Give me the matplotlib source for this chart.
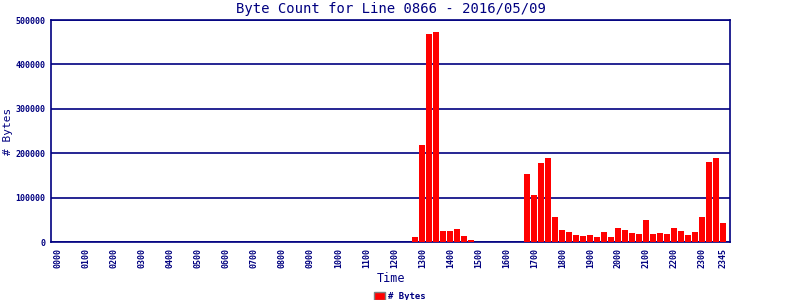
import matplotlib
matplotlib.use("Agg")
import matplotlib.pyplot as plt
from matplotlib.patches import Patch

# 15-minute intervals 00:00 .. 23:45
times = [f"{h:02d}{m:02d}" for h in range(24) for m in (0, 15, 30, 45)]
byte_counts = [0] * 51 + [
    10600, 218000, 469000, 473000, 24000, 24000, 28600, 12900, 3800,   # 12:45 - 14:45
    0, 0, 0, 0, 0, 0, 0,                                                # 15:00 - 16:30
    154000, 107000, 179000, 190000, 56000, 27000, 22400, 15700,        # 16:45 - 18:30
    13400, 15700, 11200, 22400, 11200, 31300, 27000, 20100,            # 18:45 - 20:30
    17900, 49200, 17900, 20100, 17900, 31300, 24600, 15700,            # 20:45 - 22:30
    22400, 56000, 181000, 190000, 42500,                               # 22:45 - 23:45
]
tick_labels = [t for t in times if t.endswith("00")] + ["2345"]
y_ticks = [0, 100000, 200000, 300000, 400000, 500000]

navy = "#000080"
plt.rcParams["font.family"] = ["DejaVu Sans Mono", "DejaVu Sans"]

fig = plt.figure(figsize=(8, 3), dpi=100)
ax = fig.add_axes([0.064, 0.1933, 0.8485, 0.74])

x = list(range(len(times)))
ax.bar(x, byte_counts, width=0.86, color="#ff0000", zorder=3)

ax.set_xlim(-1.04, 95.96)
ax.set_ylim(0, 500000)
ax.set_yticks(y_ticks)
ax.set_yticklabels([str(v) for v in y_ticks], fontsize=6, fontweight="bold", color=navy)
tick_pos = [i for i, t in enumerate(times) if t in tick_labels]
ax.set_xticks(tick_pos)
ax.set_xticklabels([times[i] for i in tick_pos], rotation=90, fontsize=6,
                   fontweight="bold", color=navy)
ax.tick_params(axis="both", length=0, pad=4)
ax.yaxis.grid(True, color=navy, linewidth=1.2, zorder=1)
for s in ax.spines.values():
    s.set_color(navy)
    s.set_linewidth(1.2)

ax.set_title("Byte Count for Line 0866 - 2016/05/09", fontsize=10, color=navy, pad=5)
ax.set_xlabel("Time", fontsize=8.5, color=navy, labelpad=3)
ax.set_ylabel("# Bytes", fontsize=8, color=navy)
ax.yaxis.set_label_coords(-0.056, 0.5)

handles = [Patch(facecolor="#ff0000", edgecolor="#808080", label="# Bytes")]
leg = fig.legend(handles=handles, loc="lower center", bbox_to_anchor=(0.5, -0.03),
                 frameon=False, handlelength=1.2, handleheight=0.9,
                 handletextpad=0.3, prop={"weight": "bold", "size": 6.5})
for t in leg.get_texts():
    t.set_color(navy)

fig.savefig("out.png", dpi=100)
